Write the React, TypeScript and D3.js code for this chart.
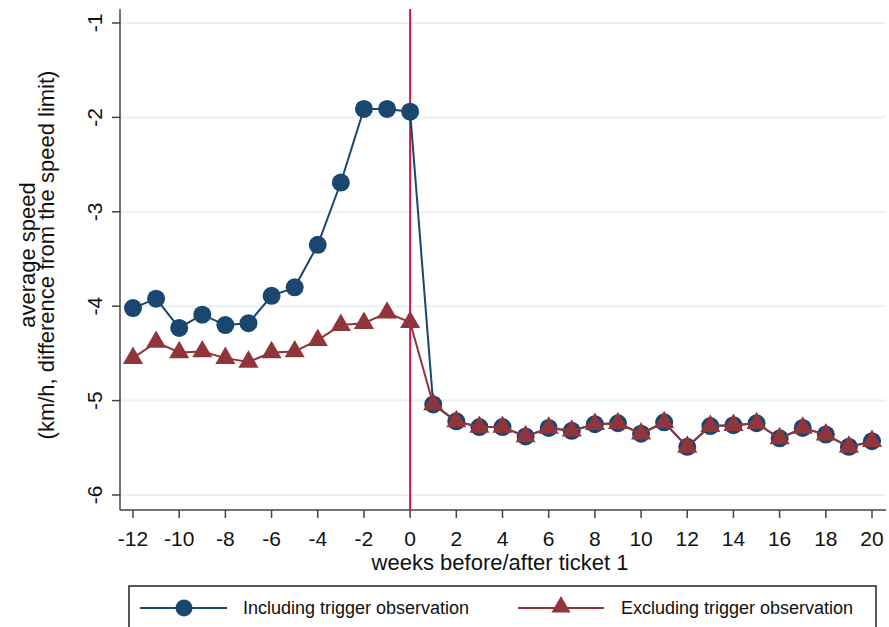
import React from "react";
import * as d3 from "d3";

// weeks relative to ticket 1
const weeks = d3.range(-12, 21);

// average speed, including the trigger observation
const including = [
  -4.02, -3.92, -4.23, -4.09, -4.2, -4.18, -3.89, -3.8, -3.35, -2.69, -1.91, -1.91, -1.94,
  -5.04, -5.22, -5.28, -5.28, -5.38, -5.29, -5.32, -5.25, -5.24, -5.35, -5.23, -5.49,
  -5.27, -5.26, -5.24, -5.4, -5.29, -5.36, -5.49, -5.43,
];

// average speed, excluding the trigger observation
const excluding = [
  -4.55, -4.38, -4.49, -4.48, -4.55, -4.59, -4.49, -4.48, -4.36, -4.2, -4.18, -4.07, -4.17,
  -5.04, -5.22, -5.28, -5.28, -5.38, -5.29, -5.32, -5.25, -5.24, -5.35, -5.23, -5.49,
  -5.27, -5.26, -5.24, -5.4, -5.29, -5.36, -5.49, -5.43,
];

const xTicks = d3.range(-12, 21, 2);
const yTicks = [-1, -2, -3, -4, -5, -6];

const seriesNames = ["Including trigger observation", "Excluding trigger observation"];

const BLUE = "#1a476f";
const RED = "#90353b";
const FONT = "Liberation Sans, Arial, sans-serif";

const App = () => {
  const width = 889;
  const height = 627;

  // scales (tick positions)
  const x = d3.scaleLinear().domain([-12, 20]).range([133, 872]);
  const y = d3.scaleLinear().domain([-6, -1]).range([495, 23]);

  const left = 120;
  const right = 886;
  const top = 9;
  const bottom = 510;

  const line = d3
    .line<number>()
    .x((_, i) => x(weeks[i]))
    .y((d) => y(d));

  const tri = d3.symbol().type(d3.symbolTriangle).size(175)();
  const triLegend = d3.symbol().type(d3.symbolTriangle).size(160)();

  return (
    <svg
      width={width}
      height={height}
      style={{ position: "absolute", left: 0, top: 0, background: "#fff" }}
      fontFamily={FONT}
    >
      {/* grid lines */}
      {yTicks.map((t) => (
        <line key={"g" + t} x1={left} x2={right} y1={y(t)} y2={y(t)} stroke="#eaf2f3" strokeWidth={2} />
      ))}

      {/* y axis */}
      <line x1={left} x2={left} y1={top} y2={bottom} stroke="#444" strokeWidth={1.5} />
      {yTicks.map((t) => (
        <g key={"y" + t}>
          <line x1={left - 8} x2={left} y1={y(t)} y2={y(t)} stroke="#444" strokeWidth={1.5} />
          <text
            transform={`translate(${left - 18},${y(t)}) rotate(-90)`}
            textAnchor="middle"
            fontSize={21}
            fill="#111"
          >
            {t}
          </text>
        </g>
      ))}

      {/* x axis */}
      <line x1={left} x2={right} y1={bottom} y2={bottom} stroke="#444" strokeWidth={1.5} />
      {xTicks.map((t) => (
        <g key={"x" + t}>
          <line x1={x(t)} x2={x(t)} y1={bottom} y2={bottom + 8} stroke="#444" strokeWidth={1.5} />
          <text x={x(t)} y={546} textAnchor="middle" fontSize={21} fill="#111">
            {t}
          </text>
        </g>
      ))}

      {/* axis titles */}
      <text x={500} y={570} textAnchor="middle" fontSize={22} fill="#111">
        weeks before/after ticket 1
      </text>
      <text transform="translate(35,255) rotate(-90)" textAnchor="middle" fontSize={22} fill="#111">
        average speed
      </text>
      <text transform="translate(54,255) rotate(-90)" textAnchor="middle" fontSize={22} fill="#111">
        (km/h, difference from the speed limit)
      </text>

      {/* ticket line */}
      <line x1={x(0)} x2={x(0)} y1={top} y2={bottom} stroke="#d4174a" strokeWidth={2} />

      {/* including series */}
      <path d={line(including) ?? ""} fill="none" stroke={BLUE} strokeWidth={2} />
      {including.map((v, i) => (
        <circle key={"c" + i} cx={x(weeks[i])} cy={y(v)} r={9} fill={BLUE} />
      ))}

      {/* excluding series */}
      <path d={line(excluding) ?? ""} fill="none" stroke={RED} strokeWidth={2} />
      {excluding.map((v, i) => (
        <path key={"t" + i} d={tri ?? ""} transform={`translate(${x(weeks[i])},${y(v)})`} fill={RED} />
      ))}

      {/* legend */}
      <rect x={129} y={586} width={747} height={60} fill="#fff" stroke="#222" strokeWidth={1.5} />
      <line x1={140} x2={227} y1={608} y2={608} stroke={BLUE} strokeWidth={2} />
      <circle cx={184} cy={608} r={8.5} fill={BLUE} />
      <text x={243} y={614} fontSize={18} fill="#111">
        {seriesNames[0]}
      </text>
      <line x1={518} x2={604} y1={608} y2={608} stroke={RED} strokeWidth={2} />
      <path d={triLegend ?? ""} transform="translate(561,607)" fill={RED} />
      <text x={621} y={614} fontSize={18} fill="#111">
        {seriesNames[1]}
      </text>
    </svg>
  );
};

export default App;
